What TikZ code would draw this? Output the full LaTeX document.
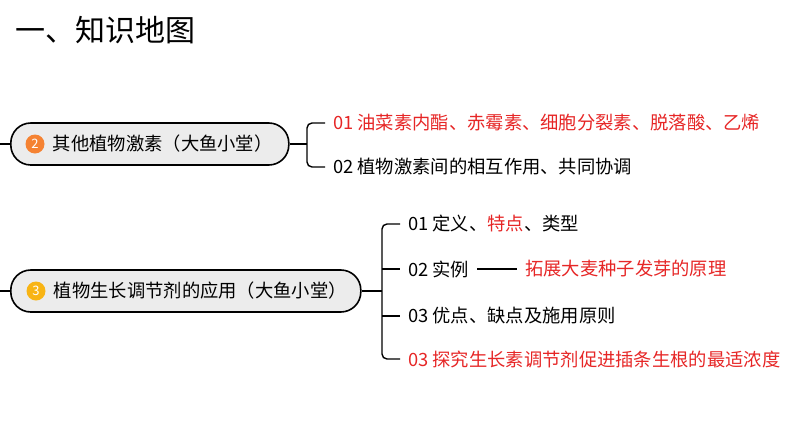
\documentclass[tikz,border=0pt]{standalone}
\usepackage{fontspec}
\setmainfont{Noto Sans CJK SC}
\usetikzlibrary{positioning}
\definecolor{redtxt}{RGB}{230,38,38}
\definecolor{orangedot}{RGB}{245,130,50}
\definecolor{yellowdot}{RGB}{248,180,20}
\definecolor{topicfill}{RGB}{236,236,236}
\begin{document}
\begin{tikzpicture}[x=1pt,y=-1pt,
  topic/.style={draw,line width=1.6pt,rounded corners=20pt,fill=topicfill,minimum height=42pt,anchor=west,inner sep=0pt,font=\fontsize{18.3}{21}\selectfont},
  leaf/.style={anchor=west,inner xsep=8pt,inner ysep=1pt,font=\fontsize{18.3}{21}\selectfont},
  dot/.style={circle,inner sep=0pt,minimum size=19pt,text=white,font=\fontsize{13}{13}\selectfont},
  link/.style={line width=1.4pt,rounded corners=5pt}]
\useasboundingbox (0,0) rectangle (794,447);
\node[anchor=west,inner sep=0pt,font=\fontsize{30}{33}\selectfont] (title) at (15,30) {一、知识地图};

% topic 2
\node[topic,minimum width=278pt] (other) at (10,144) {};
\node[dot,fill=orangedot] (n2) at (35,144) {2};
\node[anchor=west,inner sep=0pt,font=\fontsize{18.3}{21}\selectfont,right=8pt of n2] (other-txt) {其他植物激素（大鱼小堂）};
\node[leaf,text=redtxt] (o1) at (325,123) {01 油菜素内酯、赤霉素、细胞分裂素、脱落酸、乙烯};
\node[leaf] (o2) at (325,167) {02 植物激素间的相互作用、共同协调};
\coordinate (lt2) at (0,144);
\draw[link] (lt2) -- (other.west);
\draw[link] (other.east) -- (307,144);
\draw[link] (o1.west) -- (307,123) -- (307,167) -- (o2.west);

% topic 3
\node[topic,minimum width=350pt] (apply) at (10,291) {};
\node[dot,fill=yellowdot] (n3) at (36,291) {3};
\node[anchor=west,inner sep=0pt,font=\fontsize{18.3}{21}\selectfont,right=8pt of n3] (apply-txt) {植物生长调节剂的应用（大鱼小堂）};
\node[leaf] (a1) at (400,224) {01 定义、\textcolor{redtxt}{特点}、类型};
\node[leaf] (a2) at (400,269) {02 实例};
\node[leaf,text=redtxt] (a2x) at (517,269) {拓展大麦种子发芽的原理};
\node[leaf] (a3) at (400,316) {03 优点、缺点及施用原则};
\node[leaf,text=redtxt] (a4) at (400,359) {03 探究生长素调节剂促进插条生根的最适浓度};
\coordinate (lt3) at (0,291);
\draw[link] (lt3) -- (apply.west);
\draw[link] (apply.east) -- (382,291);
\draw[link] (a1.west) -- (382,224) -- (382,359) -- (a4.west);
\draw[link] (382,269) -- (a2.west);
\draw[link] (382,316) -- (a3.west);
\draw[line width=1.4pt] (a2.east) -- (a2x.west);
\end{tikzpicture}
\end{document}
